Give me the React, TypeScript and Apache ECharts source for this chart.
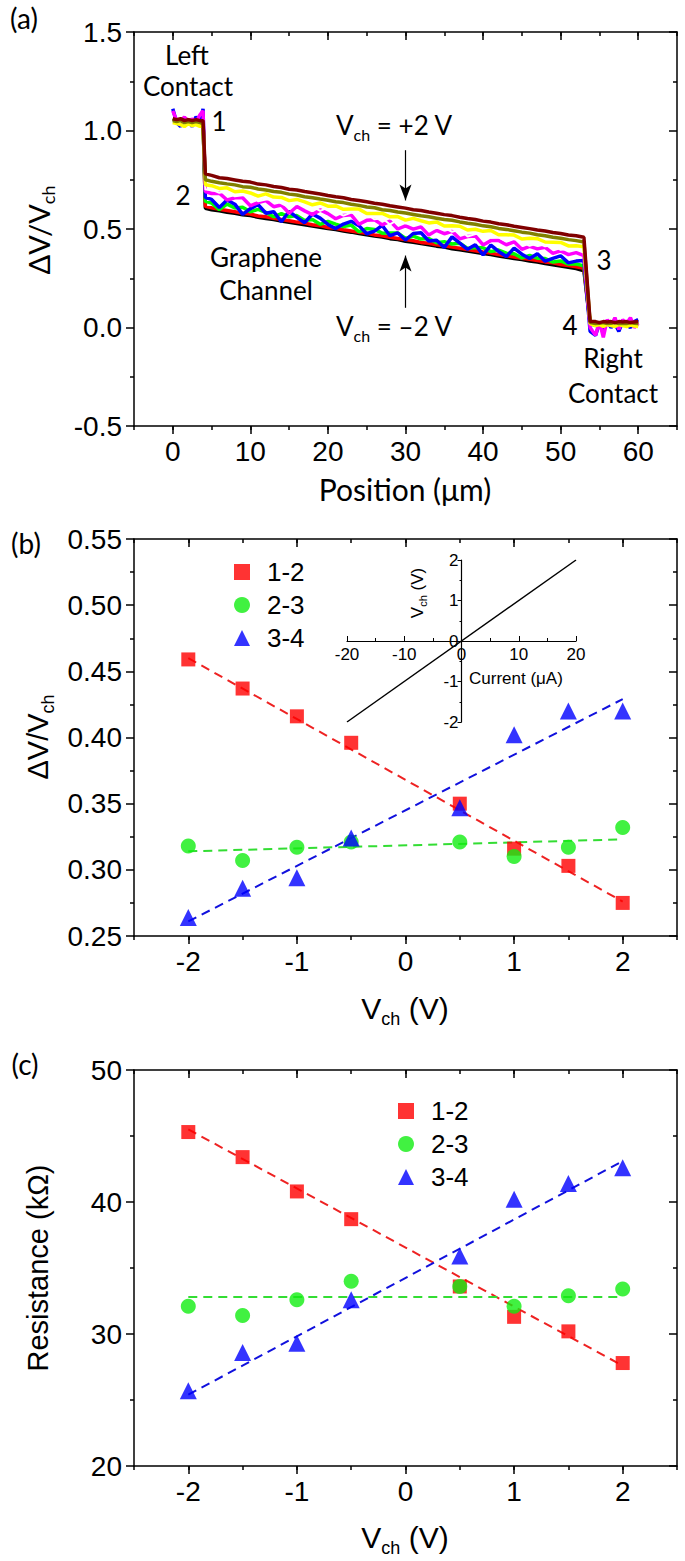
import React, { useEffect, useRef } from 'react';
import * as echarts from 'echarts';

// ---------- Panel (a): position profiles ----------
const posX = [0, 0.5, 1, 1.5, 2, 2.5, 3, 3.5, 3.9, 4.2,
  5, 6, 7, 8, 9, 10, 11, 12, 13, 14, 15, 16, 17, 18, 19, 20, 21, 22, 23, 24, 25, 26, 27, 28, 29,
  30, 31, 32, 33, 34, 35, 36, 37, 38, 39, 40, 41, 42, 43, 44, 45, 46, 47, 48, 49, 50, 51, 52, 53,
  53.8, 54.5, 55, 55.5, 56, 56.5, 57, 57.5, 58, 58.5, 59, 59.5, 60];

const traceBlack = [1.055, 1.05, 1.045, 1.05, 1.05, 1.045, 1.05, 1.045, 1.05, 0.605,
  0.598, 0.592, 0.585, 0.580, 0.572, 0.568, 0.560, 0.553, 0.548, 0.540,
  0.534, 0.528, 0.522, 0.515, 0.509, 0.502, 0.497, 0.490, 0.484, 0.477,
  0.471, 0.464, 0.459, 0.451, 0.446, 0.438, 0.433, 0.426, 0.420, 0.413,
  0.408, 0.400, 0.395, 0.388, 0.382, 0.376, 0.370, 0.363, 0.357, 0.350,
  0.345, 0.338, 0.332, 0.325, 0.319, 0.312, 0.306, 0.299, 0.288,
  0.02, 0.015, 0.018, 0.015, 0.02, 0.015, 0.018, 0.015, 0.02, 0.015, 0.018, 0.015, 0.015];
const traceRed = [1.06, 1.055, 1.05, 1.06, 1.055, 1.05, 1.055, 1.05, 1.055, 0.615,
  0.608, 0.600, 0.594, 0.588, 0.580, 0.576, 0.566, 0.562, 0.555, 0.548,
  0.542, 0.535, 0.530, 0.522, 0.517, 0.508, 0.504, 0.496, 0.490, 0.484,
  0.478, 0.470, 0.466, 0.458, 0.452, 0.446, 0.440, 0.432, 0.428, 0.420,
  0.415, 0.408, 0.402, 0.396, 0.390, 0.383, 0.378, 0.370, 0.364, 0.358,
  0.352, 0.346, 0.340, 0.333, 0.328, 0.320, 0.315, 0.308, 0.300,
  0.025, 0.02, 0.022, 0.02, 0.025, 0.02, 0.022, 0.02, 0.025, 0.02, 0.022, 0.02, 0.02];
const traceGreen = [1.06, 1.05, 1.045, 1.055, 1.05, 1.045, 1.05, 1.045, 1.05, 0.64,
  0.632, 0.598, 0.626, 0.607, 0.610, 0.587, 0.600, 0.584, 0.562, 0.578,
  0.562, 0.568, 0.543, 0.548, 0.524, 0.539, 0.525, 0.512, 0.520, 0.486,
  0.502, 0.498, 0.479, 0.480, 0.480, 0.452, 0.464, 0.449, 0.452, 0.430,
  0.436, 0.424, 0.428, 0.401, 0.406, 0.405, 0.385, 0.393, 0.377, 0.374,
  0.353, 0.366, 0.352, 0.350, 0.332, 0.338, 0.322, 0.322, 0.313,
  0.02, 0.01, 0.025, 0.015, 0.02, 0.01, 0.02, 0.015, 0.02, 0.01, 0.02, 0.015, 0.01];
const traceBlue = [1.11, 1.04, 1.02, 1.06, 1.05, 1.02, 1.07, 1.04, 1.11, 0.66,
  0.650, 0.609, 0.647, 0.626, 0.574, 0.603, 0.624, 0.580, 0.588, 0.537,
  0.590, 0.559, 0.532, 0.576, 0.555, 0.523, 0.502, 0.525, 0.539, 0.517,
  0.476, 0.489, 0.518, 0.466, 0.480, 0.444, 0.477, 0.481, 0.439, 0.443,
  0.406, 0.460, 0.428, 0.397, 0.420, 0.369, 0.418, 0.386, 0.360, 0.403,
  0.372, 0.350, 0.374, 0.337, 0.351, 0.364, 0.328, 0.337, 0.340,
  -0.02, -0.04, 0.02, -0.01, 0.03, 0.0, 0.02, -0.02, 0.03, 0.01, 0.0, 0.03, 0.04];
const traceMagenta = [1.10, 1.05, 1.04, 1.07, 1.03, 1.06, 1.04, 1.08, 1.10, 0.69,
  0.680, 0.682, 0.647, 0.658, 0.659, 0.618, 0.634, 0.644, 0.613, 0.622,
  0.580, 0.614, 0.592, 0.573, 0.597, 0.578, 0.552, 0.569, 0.572, 0.524,
  0.544, 0.547, 0.521, 0.540, 0.500, 0.516, 0.499, 0.511, 0.469, 0.493,
  0.476, 0.488, 0.450, 0.462, 0.465, 0.419, 0.441, 0.442, 0.420, 0.435,
  0.397, 0.412, 0.399, 0.407, 0.376, 0.389, 0.370, 0.380, 0.365,
  0.0, -0.04, 0.03, -0.05, 0.04, 0.01, 0.05, -0.01, 0.04, 0.02, 0.05, 0.0, 0.02];
const traceWhite = [1.05, 1.04, 1.045, 1.035, 1.04, 1.035, 1.04, 1.03, 1.04, 0.70,
  0.700, 0.684, 0.692, 0.666, 0.671, 0.676, 0.641, 0.650, 0.650, 0.630,
  0.610, 0.633, 0.614, 0.614, 0.592, 0.609, 0.587, 0.568, 0.584, 0.571,
  0.576, 0.549, 0.555, 0.523, 0.547, 0.529, 0.527, 0.532, 0.499, 0.505,
  0.506, 0.486, 0.497, 0.462, 0.474, 0.477, 0.456, 0.459, 0.437, 0.453,
  0.434, 0.415, 0.429, 0.412, 0.419, 0.394, 0.399, 0.399, 0.384,
  0.02, 0.015, 0.02, 0.01, 0.02, 0.015, 0.01, 0.02, 0.015, 0.01, 0.015, 0.01, 0.012];
const traceYellow = [1.04, 1.035, 1.03, 1.02, 1.035, 1.025, 1.03, 1.02, 1.03, 0.725,
  0.720, 0.706, 0.709, 0.689, 0.693, 0.683, 0.667, 0.678, 0.662, 0.660,
  0.644, 0.650, 0.638, 0.623, 0.632, 0.616, 0.617, 0.600, 0.601, 0.601,
  0.579, 0.579, 0.579, 0.562, 0.563, 0.545, 0.554, 0.542, 0.531, 0.536,
  0.515, 0.517, 0.514, 0.495, 0.499, 0.488, 0.492, 0.471, 0.471, 0.469,
  0.449, 0.453, 0.451, 0.434, 0.433, 0.432, 0.414, 0.415, 0.410,
  0.02, 0.01, 0.015, 0.005, 0.015, 0.01, 0.005, 0.015, 0.01, 0.005, 0.012, 0.008, 0.005];
const traceOlive = [1.05, 1.045, 1.05, 1.04, 1.045, 1.04, 1.045, 1.04, 1.035, 0.75,
  0.742, 0.735, 0.729, 0.724, 0.715, 0.712, 0.703, 0.698, 0.690, 0.686,
  0.677, 0.673, 0.664, 0.659, 0.652, 0.646, 0.638, 0.634, 0.626, 0.620,
  0.612, 0.608, 0.598, 0.594, 0.586, 0.581, 0.574, 0.567, 0.562, 0.555,
  0.548, 0.544, 0.536, 0.529, 0.524, 0.516, 0.511, 0.503, 0.498, 0.491,
  0.484, 0.479, 0.471, 0.466, 0.458, 0.453, 0.446, 0.441, 0.434,
  0.025, 0.02, 0.022, 0.025, 0.02, 0.022, 0.025, 0.02, 0.022, 0.02, 0.025, 0.022, 0.02];
const traceMaroon = [1.06, 1.055, 1.06, 1.05, 1.055, 1.05, 1.055, 1.05, 1.05, 0.78,
  0.772, 0.760, 0.756, 0.749, 0.742, 0.738, 0.728, 0.724, 0.716, 0.711,
  0.702, 0.698, 0.690, 0.684, 0.678, 0.670, 0.664, 0.659, 0.650, 0.645,
  0.638, 0.631, 0.626, 0.618, 0.612, 0.606, 0.598, 0.594, 0.586, 0.580,
  0.573, 0.568, 0.560, 0.553, 0.548, 0.540, 0.535, 0.527, 0.522, 0.514,
  0.508, 0.502, 0.495, 0.490, 0.482, 0.477, 0.470, 0.466, 0.458,
  0.03, 0.03, 0.025, 0.03, 0.028, 0.03, 0.025, 0.03, 0.028, 0.03, 0.025, 0.028, 0.03];

const traceColors = ['#000000', '#ff0000', '#00ff00', '#0000ff', '#ff00ff', '#ffffff', '#ffff00', '#808000', '#800000'];
const traces = [traceBlack, traceRed, traceGreen, traceBlue, traceMagenta, traceWhite, traceYellow, traceOlive, traceMaroon];

const posTicks = [0, 10, 20, 30, 40, 50, 60];

// ---------- Panels (b) and (c) ----------
const vch = [-2, -1.5, -1, -0.5, 0.5, 1, 1.5, 2];
const vchTicks = [-2, -1, 0, 1, 2];
const seriesNames = ['1-2', '2-3', '3-4'];

const ratio12 = [0.459, 0.437, 0.416, 0.396, 0.350, 0.316, 0.303, 0.275];
const ratio23 = [0.318, 0.307, 0.317, 0.321, 0.321, 0.310, 0.317, 0.332];
const ratio34 = [0.264, 0.286, 0.294, 0.324, 0.347, 0.402, 0.420, 0.420];

const res12 = [45.3, 43.4, 40.8, 38.7, 33.6, 31.3, 30.2, 27.8];
const res23 = [32.1, 31.4, 32.6, 34.0, 33.6, 32.1, 32.9, 33.4];
const res34 = [25.7, 28.6, 29.3, 32.6, 35.9, 40.2, 41.4, 42.6];

const fitX = [-2, 2];
const fitRatio12 = [0.460, 0.276];
const fitRatio23 = [0.314, 0.323];
const fitRatio34 = [0.261, 0.429];
const fitRes12 = [45.5, 27.6];
const fitRes23 = [32.8, 32.8];
const fitRes34 = [25.4, 43.1];

// inset I-V
const ivCurrent = [-20, 20];
const ivVoltage = [-2, 2];

const AR = '"Liberation Sans", Arial, sans-serif';
const CAL = 'Lato, "Open Sans", sans-serif';
const BLK = '#000';
const TICK = 28;

function xSet(grid: number, min: number, max: number, step: number, majors: number[], size: number, fmt: (v: number) => string) {
  const line = { show: true, onZero: false, lineStyle: { color: BLK, width: 1.5 } };
  const noLine = { show: false, onZero: false };
  const tl = { color: BLK, width: 1.5 };
  const base = { type: 'value', gridIndex: grid, min, max, interval: step, splitLine: { show: false } };
  return [
    { ...base, position: 'bottom', axisLine: line, axisTick: { show: true, customValues: majors, length: 8, lineStyle: tl },
      axisLabel: { show: true, customValues: majors, formatter: fmt, fontSize: size, fontFamily: AR, color: BLK, margin: 11 } },
    { ...base, position: 'bottom', axisLine: noLine, axisTick: { show: true, length: 4, lineStyle: tl }, axisLabel: { show: false } },
    { ...base, position: 'top', axisLine: line, axisTick: { show: true, inside: true, customValues: majors, length: 8, lineStyle: tl }, axisLabel: { show: false } },
    { ...base, position: 'top', axisLine: noLine, axisTick: { show: true, inside: true, length: 4, lineStyle: tl }, axisLabel: { show: false } },
  ];
}

function ySet(grid: number, min: number, max: number, step: number, size: number, fmt: (v: number) => string) {
  const line = { show: true, onZero: false, lineStyle: { color: BLK, width: 1.5 } };
  const tl = { color: BLK, width: 1.5 };
  const base = { type: 'value', gridIndex: grid, min, max, interval: step, splitLine: { show: false } };
  return [
    { ...base, position: 'left', axisLine: line, axisTick: { show: true, length: 8, lineStyle: tl },
      minorTick: { show: true, splitNumber: 2, length: 4, lineStyle: tl }, minorSplitLine: { show: false },
      axisLabel: { formatter: fmt, fontSize: size, fontFamily: AR, color: BLK, margin: 12 } },
    { ...base, position: 'right', axisLine: line, axisTick: { show: true, inside: true, length: 8, lineStyle: tl },
      minorTick: { show: true, splitNumber: 2, length: 4, lineStyle: tl }, minorSplitLine: { show: false },
      axisLabel: { show: false } },
  ];
}

const pairs = (xs: number[], ys: number[]) => xs.map((x, i) => [x, ys[i]]);

function markerSeries(xi: number, yi: number, a: number[], b: number[], c: number[]) {
  return [
    { name: seriesNames[0], type: 'scatter', xAxisIndex: xi, yAxisIndex: yi, data: pairs(vch, a), symbol: 'rect', symbolSize: 14, itemStyle: { color: '#ff0000' }, z: 5 },
    { name: seriesNames[1], type: 'scatter', xAxisIndex: xi, yAxisIndex: yi, data: pairs(vch, b), symbol: 'circle', symbolSize: 15, itemStyle: { color: '#11ee11' }, z: 5 },
    { name: seriesNames[2], type: 'scatter', xAxisIndex: xi, yAxisIndex: yi, data: pairs(vch, c), symbol: 'triangle', symbolSize: 17, itemStyle: { color: '#0000ff' }, z: 5 },
  ];
}

function fitSeries(xi: number, yi: number, a: number[], b: number[], c: number[]) {
  const mk = (ys: number[], color: string) => ({ type: 'line', xAxisIndex: xi, yAxisIndex: yi, data: pairs(fitX, ys), symbol: 'none', silent: true,
    lineStyle: { color, width: 2, type: [9, 6] }, z: 3 });
  return [mk(a, '#ee2222'), mk(b, '#33dd33'), mk(c, '#1111dd')];
}

function txt(text: string, x: number, y: number, size: number, family: string, extra: any = {}) {
  return {
    type: 'text', x, y, silent: true, rotation: extra.rotation || 0,
    style: {
      text, fontSize: size, fontFamily: family, fill: BLK,
      align: extra.align || 'center', verticalAlign: 'middle',
      textAlign: extra.align || 'center', textVerticalAlign: 'middle',
      rich: extra.rich,
    },
  };
}

const subRich = (base: number, sub: number, fam: string) => ({
  s: { fontSize: sub, fontFamily: fam, padding: [Math.round(base * 0.7), 0, 0, 0] },
});

function legendAt(left: number, top: number) {
  return {
    orient: 'vertical', left, top, itemWidth: 16, itemHeight: 16, itemGap: 7, selectedMode: false,
    data: seriesNames,
    formatter: (n: string) => '{t|' + n + '}',
    textStyle: { fontSize: 26, fontFamily: AR, color: BLK, lineHeight: 26,
      rich: { t: { fontSize: 26, fontFamily: AR, color: BLK, padding: [0, 0, 0, 12] } } },
  };
}

export default function App() {
  const ref = useRef<HTMLDivElement>(null);
  useEffect(() => {
    if (!ref.current) return;
    const chart = echarts.init(ref.current, null, { renderer: 'svg' });

    const insetLeft = 347, insetTop = 560, insetW = 229, insetH = 162;

    const xAxes = [
      ...xSet(0, -5, 65, 5, posTicks, TICK, (v) => String(v)),
      ...xSet(1, -2.5, 2.5, 0.5, vchTicks, TICK, (v) => String(v)),
      ...xSet(2, -2.5, 2.5, 0.5, vchTicks, TICK, (v) => String(v)),
      { type: 'value', gridIndex: 3, min: -20, max: 20, interval: 10, splitLine: { show: false },
        position: 'bottom', offset: -insetH / 2,
        axisLine: { show: true, onZero: false, lineStyle: { color: BLK, width: 1.2 } },
        axisTick: { show: true, inside: true, length: 5, lineStyle: { color: BLK } },
        minorTick: { show: true, splitNumber: 2, length: 3, lineStyle: { color: BLK } },
        axisLabel: { fontSize: 17, fontFamily: AR, color: BLK, margin: 5 } },
    ];
    const yAxes = [
      ...ySet(0, -0.5, 1.5, 0.5, TICK, (v) => v.toFixed(1)),
      ...ySet(1, 0.25, 0.55, 0.05, TICK, (v) => v.toFixed(2)),
      ...ySet(2, 20, 50, 10, TICK, (v) => String(Math.round(v))),
      { type: 'value', gridIndex: 3, min: -2, max: 2, interval: 1, splitLine: { show: false },
        position: 'left', offset: -insetW / 2,
        axisLine: { show: true, onZero: false, lineStyle: { color: BLK, width: 1.2 } },
        axisTick: { show: true, length: 4, lineStyle: { color: BLK } },
        minorTick: { show: true, splitNumber: 2, length: 2, lineStyle: { color: BLK } },
        axisLabel: { fontSize: 17, fontFamily: AR, color: BLK, margin: 3 } },
    ];

    const profileSeries: any[] = traces.map((t, k) => ({
      type: 'line', xAxisIndex: 0, yAxisIndex: 0, data: pairs(posX, t), symbol: 'none', silent: true,
      lineStyle: { color: traceColors[k], width: k === 5 ? 2 : 3.5 }, z: 2,
    }));
    profileSeries[profileSeries.length - 1].markLine = {
      silent: true, symbol: ['none', 'arrow'], symbolSize: [9, 16],
      lineStyle: { color: BLK, width: 1.2, type: 'solid' }, label: { show: false },
      data: [
        [{ coord: [30, 0.9] }, { coord: [30, 0.645] }],
        [{ coord: [30, 0.1] }, { coord: [30, 0.365] }],
      ],
    };

    const option: any = {
      animation: false,
      backgroundColor: '#fff',
      grid: [
        { left: 134, top: 32, width: 543, height: 394 },
        { left: 134, top: 539, width: 543, height: 397 },
        { left: 134, top: 1070, width: 543, height: 396 },
        { left: insetLeft, top: insetTop, width: insetW, height: insetH },
      ],
      xAxis: xAxes,
      yAxis: yAxes,
      legend: [legendAt(229, 554), legendAt(393, 1093)],
      series: [
        ...profileSeries,
        ...fitSeries(4, 2, fitRatio12, fitRatio23, fitRatio34),
        ...markerSeries(4, 2, ratio12, ratio23, ratio34),
        ...fitSeries(8, 4, fitRes12, fitRes23, fitRes34),
        ...markerSeries(8, 4, res12, res23, res34),
        { type: 'line', xAxisIndex: 12, yAxisIndex: 6, data: pairs(ivCurrent, ivVoltage), symbol: 'none', silent: true,
          lineStyle: { color: BLK, width: 1.5 } },
      ],
      graphic: [
        txt('(a)', 24, 18, 28, CAL),
        txt('(b)', 26, 543, 28, CAL),
        txt('(c)', 25, 1064, 28, CAL),
        // panel (a) annotations
        txt('Left', 187, 55, 26, CAL),
        txt('Contact', 188, 86, 26, CAL),
        txt('1', 219, 121, 26, CAL),
        txt('2', 183, 195, 26, CAL),
        txt('Graphene', 266, 257, 26, CAL),
        txt('Channel', 266, 290, 26, CAL),
        txt('V{s|ch} = +2 V', 336, 125, 26, CAL, { align: 'left', rich: subRich(26, 16, CAL) }),
        txt('V{s|ch} = \u20132 V', 336, 326, 26, CAL, { align: 'left', rich: subRich(26, 16, CAL) }),
        txt('3', 604, 260, 26, CAL),
        txt('4', 570, 325, 26, CAL),
        txt('Right', 613, 358, 26, CAL),
        txt('Contact', 613, 393, 26, CAL),
        // axis titles
        txt('Position (\u03bcm)', 405, 489, 30, CAL),
        txt('\u0394V/V{s|ch}', 38, 230, 29, CAL, { rotation: Math.PI / 2, rich: subRich(29, 18, CAL) }),
        txt('\u0394V/V{s|ch}', 38, 737, 29, AR, { rotation: Math.PI / 2, rich: subRich(29, 18, AR) }),
        txt('V{s|ch} (V)', 405, 1008, 30, AR, { rich: subRich(30, 18, AR) }),
        txt('Resistance (k\u03a9)', 38, 1268, 29, AR, { rotation: Math.PI / 2 }),
        txt('V{s|ch} (V)', 405, 1537, 30, AR, { rich: subRich(30, 18, AR) }),
        // inset titles
        txt('V{s|ch} (V)', 417, 593, 17, AR, { rotation: Math.PI / 2, rich: subRich(17, 11, AR) }),
        txt('Current (\u03bcA)', 469, 678, 17, AR, { align: 'left' }),
      ],
    };
    chart.setOption(option);
    return () => chart.dispose();
  }, []);
  return <div ref={ref} style={{ position: 'absolute', left: 0, top: 0, width: 685, height: 1561, background: '#fff' }} />;
}
